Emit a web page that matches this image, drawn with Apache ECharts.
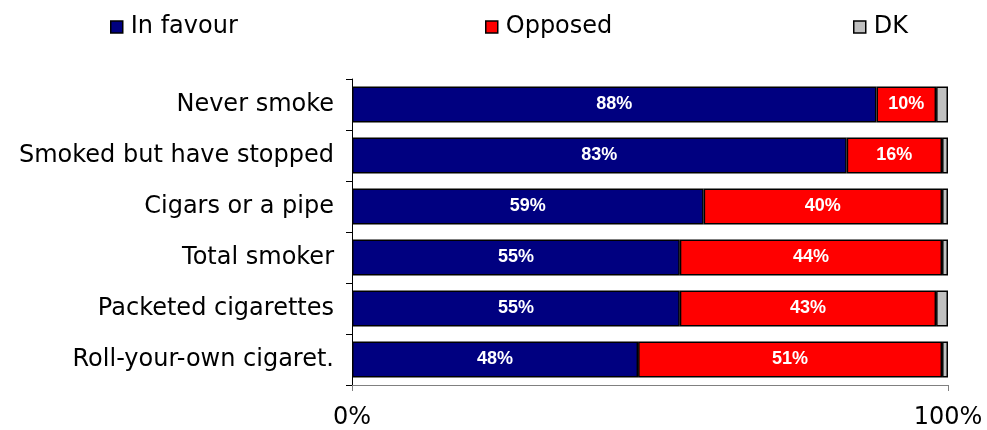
<!DOCTYPE html>
<html>
<head>
<meta charset="utf-8">
<script src="https://cdn.jsdelivr.net/npm/echarts@6/dist/echarts.min.js"></script>
<style>
  html, body { margin: 0; padding: 0; background: #fff; }
  #chart { width: 987px; height: 430px; }
</style>
</head>
<body>
<div id="chart"></div>
<script>
// Support for the measure, by smoking status (%)
const categories = [
  'Never smoke',
  'Smoked but have stopped',
  'Cigars or a pipe',
  'Total smoker',
  'Packeted cigarettes',
  'Roll-your-own cigaret.'
];
const inFavour = [88, 83, 59, 55, 55, 48];
const opposed  = [10, 16, 40, 44, 43, 51];
const dk       = [2, 1, 1, 1, 2, 1];
const axisTicks = [0, 100];

const FONT = 'DejaVu Sans, Verdana, sans-serif';

const chart = echarts.init(document.getElementById('chart'), null, { renderer: 'canvas' });

const valueLabel = {
  show: true,
  position: 'inside',
  formatter: p => p.value + '%',
  color: '#fff',
  fontFamily: 'Liberation Sans, Arial, sans-serif',
  fontWeight: 'bold',
  fontSize: 18
};

function legendAt(name, left) {
  return {
    data: [name],
    left: left,
    top: 10,
    icon: 'rect',
    itemWidth: 12,
    itemHeight: 12,
    itemGap: 8,
    itemStyle: { borderColor: '#000', borderWidth: 1.5 },
    textStyle: { fontFamily: FONT, fontSize: 24, color: '#000', padding: [0, 0, 0, 3] },
    selectedMode: false
  };
}

chart.setOption({
  animation: false,
  backgroundColor: '#fff',
  legend: [
    legendAt('In favour', 105),
    legendAt('Opposed', 480),
    legendAt('DK', 848)
  ],
  grid: { left: 352, right: 39, top: 79, bottom: 44, containLabel: false },
  xAxis: {
    type: 'value',
    min: axisTicks[0],
    max: axisTicks[1],
    interval: axisTicks[1] - axisTicks[0],
    axisLine: { show: true, lineStyle: { color: '#808080', width: 1 } },
    axisTick: { show: true, length: 6, lineStyle: { color: '#808080' } },
    splitLine: { show: false },
    axisLabel: {
      formatter: '{value}%',
      fontFamily: FONT,
      fontSize: 24,
      color: '#000',
      margin: 21
    }
  },
  yAxis: {
    type: 'category',
    data: categories,
    inverse: true,
    axisLine: { show: true, lineStyle: { color: '#000', width: 1 } },
    axisTick: { show: true, length: 6, lineStyle: { color: '#000' } },
    axisLabel: {
      fontFamily: FONT,
      fontSize: 24,
      color: '#000',
      margin: 18
    }
  },
  series: [
    {
      name: 'In favour', type: 'bar', stack: 'all', data: inFavour,
      barWidth: 36,
      itemStyle: { color: '#000080', borderColor: '#000', borderWidth: 1.5 },
      label: valueLabel
    },
    {
      name: 'Opposed', type: 'bar', stack: 'all', data: opposed,
      itemStyle: { color: '#ff0000', borderColor: '#000', borderWidth: 1.5 },
      label: valueLabel
    },
    {
      name: 'DK', type: 'bar', stack: 'all', data: dk,
      itemStyle: { color: '#c0c0c0', borderColor: '#000', borderWidth: 1.5 },
      label: { show: false }
    }
  ]
});
</script>
</body>
</html>
